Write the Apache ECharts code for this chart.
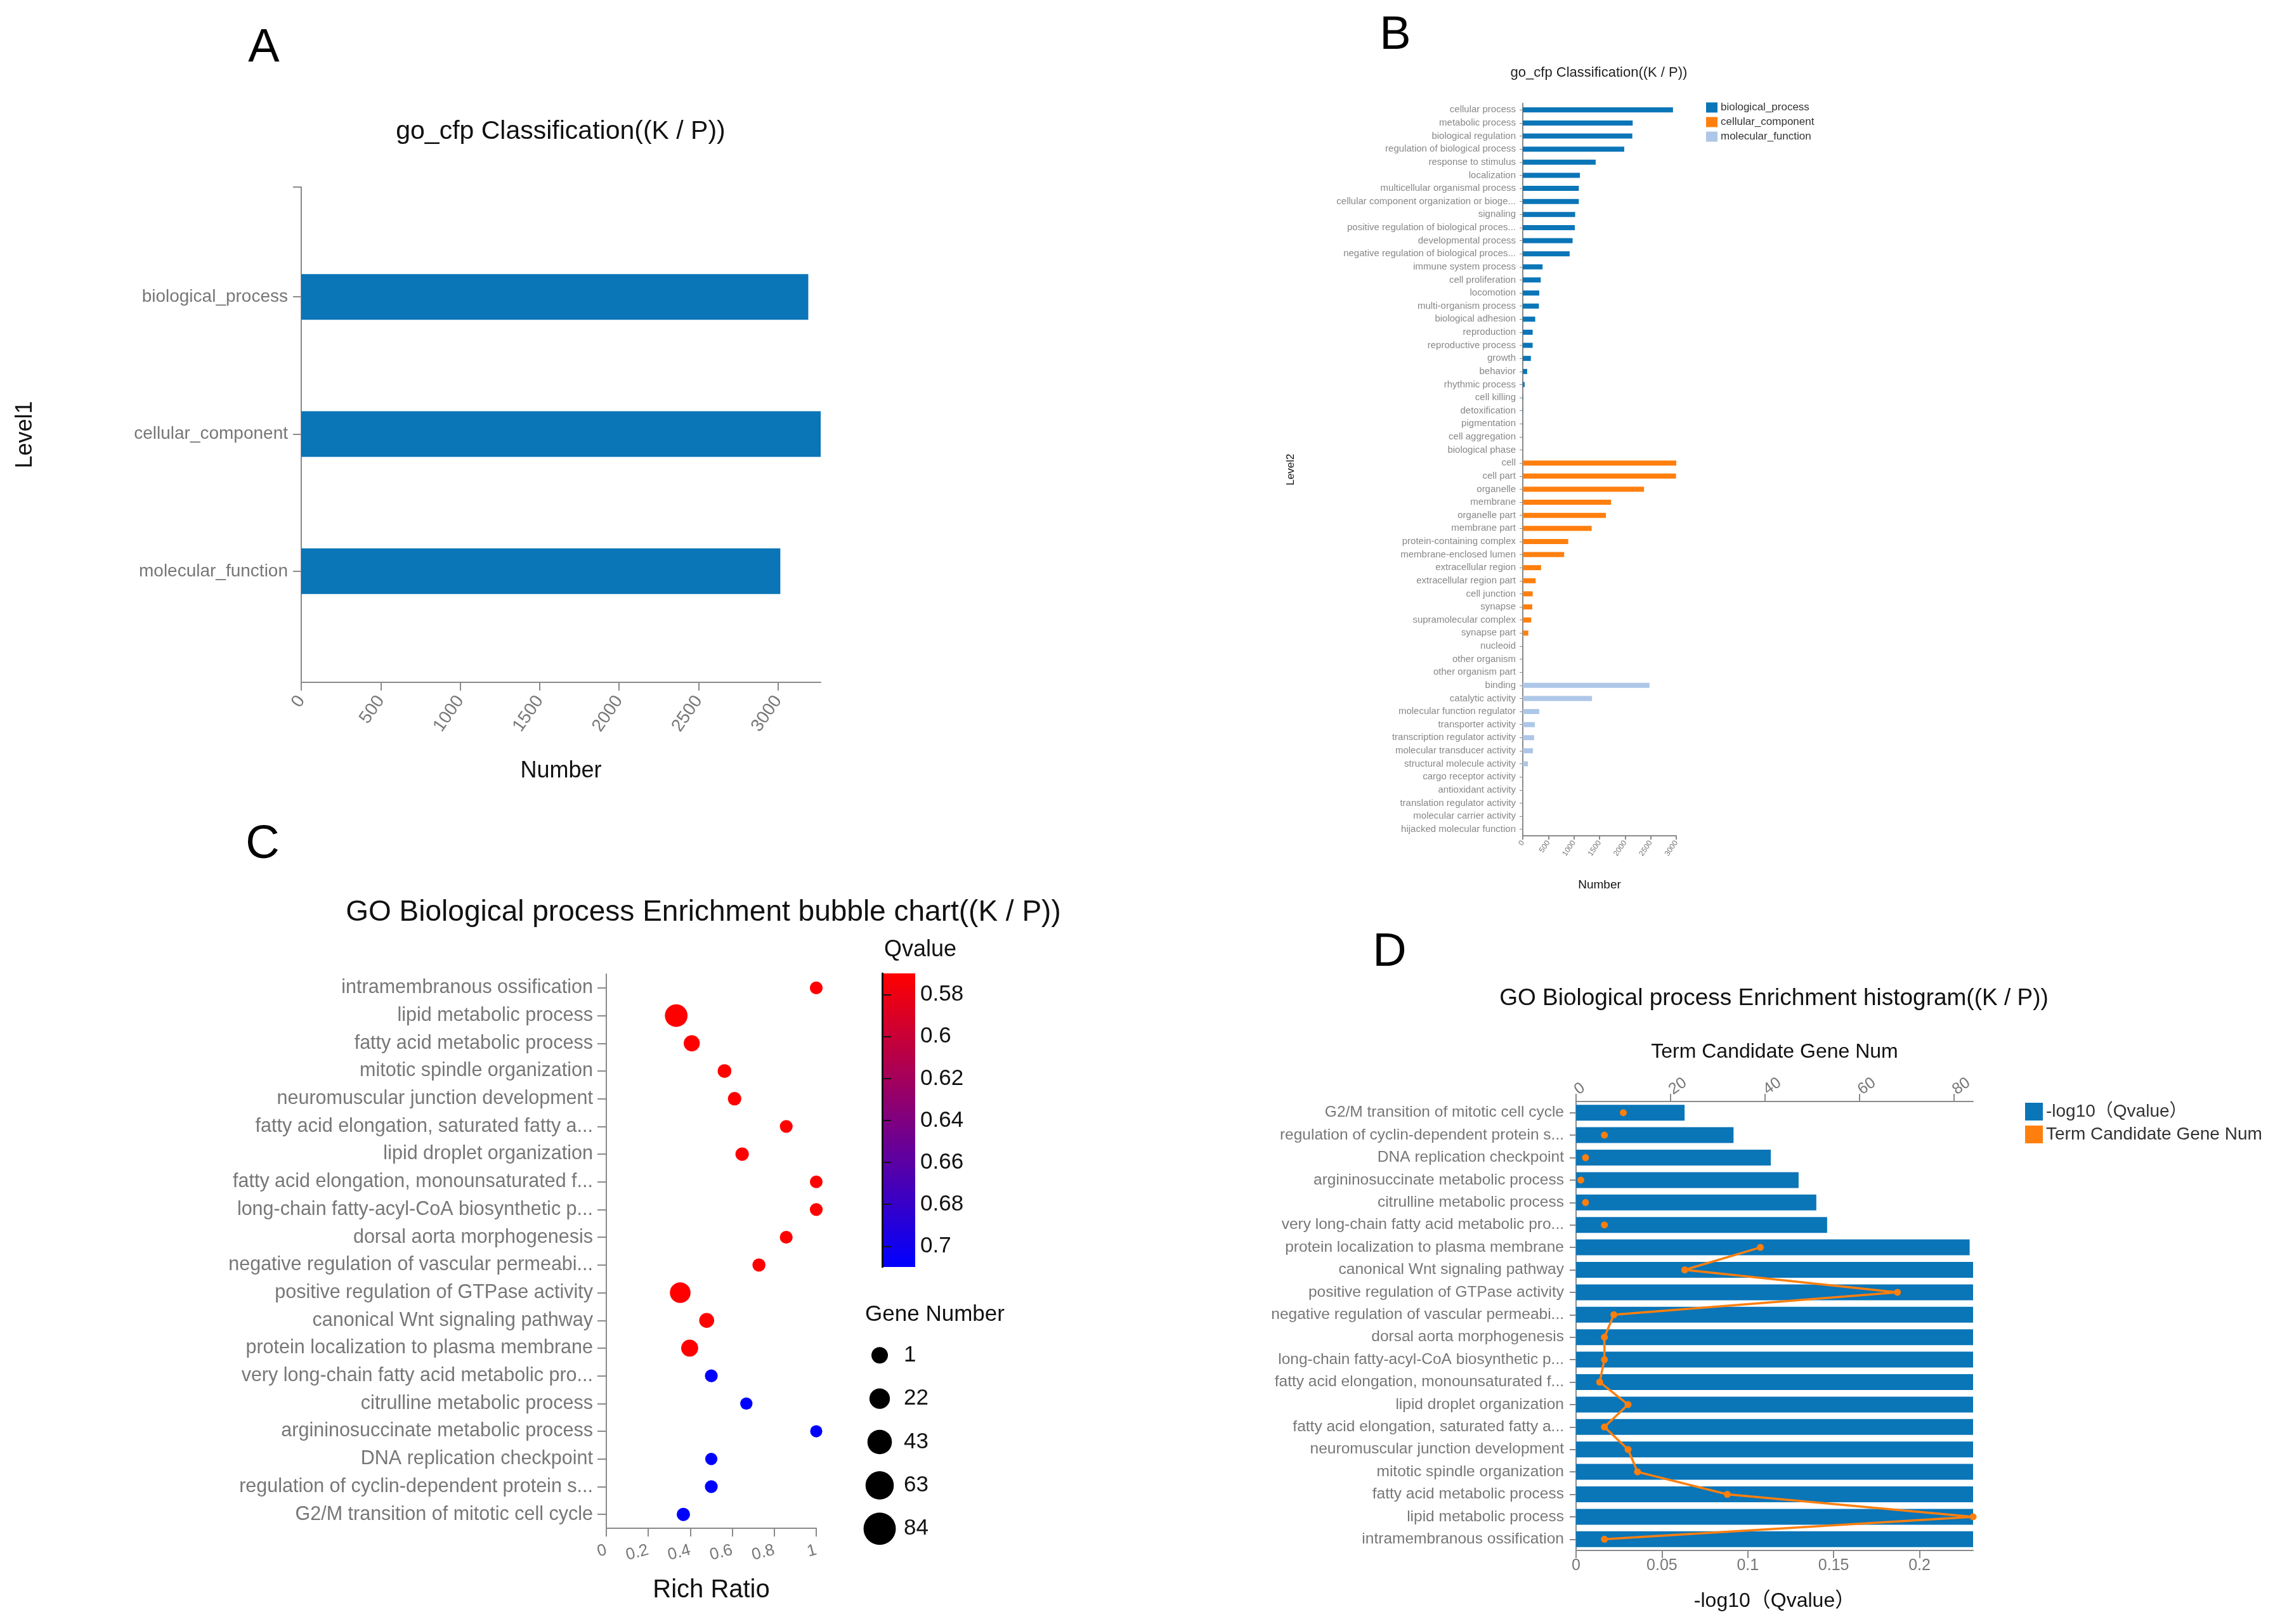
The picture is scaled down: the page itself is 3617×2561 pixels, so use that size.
<!DOCTYPE html>
<html>
<head>
<meta charset="utf-8">
<script src="https://cdn.jsdelivr.net/npm/echarts@6/dist/echarts.min.js"></script>
<style>
  html, body { margin: 0; padding: 0; background: #fff; }
  #main { width: 3617px; height: 2561px; }
</style>
</head>
<body>
<div id="main"></div>
<script>
// panel A: level 1 counts
var levelCats = ['biological_process', 'cellular_component', 'molecular_function'];
var levelCounts = [3190, 3268, 3014];

// panel B: level 2 counts, one list per ontology
var bpTerms = ['cellular process', 'metabolic process', 'biological regulation', 'regulation of biological process',
  'response to stimulus', 'localization', 'multicellular organismal process', 'cellular component organization or bioge...',
  'signaling', 'positive regulation of biological proces...', 'developmental process', 'negative regulation of biological proces...',
  'immune system process', 'cell proliferation', 'locomotion', 'multi-organism process', 'biological adhesion',
  'reproduction', 'reproductive process', 'growth', 'behavior', 'rhythmic process', 'cell killing', 'detoxification',
  'pigmentation', 'cell aggregation', 'biological phase'];
var bpCounts = [2936, 2148, 2141, 1983, 1425, 1117, 1095, 1095, 1024, 1017, 974, 916, 387, 351, 322, 315, 243,
  193, 193, 158, 86, 36, 8, 5, 3, 2, 1];
var ccTerms = ['cell', 'cell part', 'organelle', 'membrane', 'organelle part', 'membrane part', 'protein-containing complex',
  'membrane-enclosed lumen', 'extracellular region', 'extracellular region part', 'cell junction', 'synapse',
  'supramolecular complex', 'synapse part', 'nucleoid', 'other organism', 'other organism part'];
var ccCounts = [3000, 2995, 2370, 1726, 1625, 1346, 888, 809, 358, 251, 193, 186, 165, 107, 2, 2, 1];
var mfTerms = ['binding', 'catalytic activity', 'molecular function regulator', 'transporter activity',
  'transcription regulator activity', 'molecular transducer activity', 'structural molecule activity',
  'cargo receptor activity', 'antioxidant activity', 'translation regulator activity', 'molecular carrier activity',
  'hijacked molecular function'];
var mfCounts = [2477, 1353, 322, 236, 222, 200, 100, 3, 3, 2, 1, 1];

// panels C and D: enriched terms (top to bottom as in the bubble chart)
var terms = ['intramembranous ossification', 'lipid metabolic process', 'fatty acid metabolic process',
  'mitotic spindle organization', 'neuromuscular junction development', 'fatty acid elongation, saturated fatty a...',
  'lipid droplet organization', 'fatty acid elongation, monounsaturated f...', 'long-chain fatty-acyl-CoA biosynthetic p...',
  'dorsal aorta morphogenesis', 'negative regulation of vascular permeabi...', 'positive regulation of GTPase activity',
  'canonical Wnt signaling pathway', 'protein localization to plasma membrane', 'very long-chain fatty acid metabolic pro...',
  'citrulline metabolic process', 'argininosuccinate metabolic process', 'DNA replication checkpoint',
  'regulation of cyclin-dependent protein s...', 'G2/M transition of mitotic cell cycle'];
var richRatio = [1.0, 0.333, 0.407, 0.563, 0.611, 0.857, 0.647, 1.0, 1.0, 0.857, 0.727, 0.352, 0.478, 0.397,
  0.5, 0.667, 1.0, 0.5, 0.5, 0.367];
var geneNum = [6, 84, 32, 13, 11, 6, 11, 5, 6, 6, 8, 68, 23, 39, 6, 2, 1, 2, 6, 10];
var qValue = [0.5698, 0.5698, 0.5698, 0.5698, 0.5698, 0.5698, 0.5698, 0.5698, 0.5698, 0.5698, 0.5698, 0.5698,
  0.5698, 0.5698, 0.7099, 0.7099, 0.7099, 0.7099, 0.7099, 0.7099];
var negLogQ = [0.2312, 0.2312, 0.2312, 0.2312, 0.2312, 0.2312, 0.2312, 0.2312, 0.2312, 0.2312, 0.2312, 0.2312,
  0.2312, 0.2292, 0.1462, 0.1399, 0.1296, 0.1134, 0.0917, 0.0632];
var qTicks = [0.58, 0.6, 0.62, 0.64, 0.66, 0.68, 0.7];
var sizeLegend = [1, 22, 43, 63, 84];

var FONT = "'Liberation Sans', Arial, 'Noto Sans CJK SC', sans-serif";
var BLUE = '#0a75b7';
var ORANGE = '#ff7f0e';
var LIGHT = '#aec7e8';
var AXIS = '#8a8a8a';
var LABEL = '#777';

var qMin = Math.min.apply(null, qValue);
var qMax = Math.max.apply(null, qValue);
var levelMax = Math.max.apply(null, levelCounts);

var bTerms = bpTerms.concat(ccTerms, mfTerms);
function pad(arr, before, total) {
  var out = [];
  for (var i = 0; i < total; i++) {
    var j = i - before;
    out.push(j >= 0 && j < arr.length ? arr[j] : '-');
  }
  return out;
}

function bubbleSize(n) { return 19 + 0.2 * n; }
function legendSize(n) { return 26 + 0.3 * (n - 1); }
function plain(v) { return String(v); }

function txt(text, x, y, size, color) {
  return {
    text: text, left: x, top: y, padding: 0,
    textAlign: 'center', textVerticalAlign: 'middle',
    textStyle: { fontFamily: FONT, fontSize: size, fontWeight: 'normal', color: color || '#111' }
  };
}

var line = { show: true, lineStyle: { color: AXIS, width: 2 } };
var tick = function (len) { return { show: true, length: len, lineStyle: { color: AXIS, width: 2 } }; };

var option = {
  backgroundColor: '#fff',
  animation: false,
  textStyle: { fontFamily: FONT },
  title: [
    txt('A', 416, 77, 74, '#000'),
    txt('B', 2200, 57, 74, '#000'),
    txt('C', 414, 1333, 74, '#000'),
    txt('D', 2191, 1503, 74, '#000'),
    txt('go_cfp Classification((K / P))', 884, 208, 41),
    txt('go_cfp Classification((K / P))', 2521, 115, 22, '#222'),
    txt('GO Biological process Enrichment bubble chart((K / P))', 1109, 1439, 46),
    txt('GO Biological process Enrichment histogram((K / P))', 2797, 1575, 37),
    txt('Qvalue', 1451, 1498, 36),
    txt('Gene Number', 1474, 2073, 35)
  ],
  legend: [{
    orient: 'vertical', left: 2690, top: 161, padding: 0,
    itemWidth: 18, itemHeight: 16, itemGap: 6,
    textStyle: { fontSize: 17, color: '#333' },
    data: [{ name: 'biological_process', icon: 'rect' }, { name: 'cellular_component', icon: 'rect' },
      { name: 'molecular_function', icon: 'rect' }]
  }, {
    orient: 'vertical', left: 3193, top: 1739, padding: 0,
    itemWidth: 28, itemHeight: 28, itemGap: 8,
    textStyle: { fontSize: 28, color: '#333' },
    data: [{ name: '-log10（Qvalue）', icon: 'rect' }, { name: 'Term Candidate Gene Num', icon: 'rect' }]
  }],
  visualMap: {
    show: false, type: 'continuous', seriesIndex: 4, dimension: 2,
    min: qMin, max: qMax, inRange: { color: ['#ff0000', '#0000ff'] }
  },
  grid: [
    { left: 475, width: 819, top: 360, height: 649 },
    { left: 475, width: 819, top: 295, height: 781 },
    { left: 2401, width: 242, top: 163, height: 1155 },
    { left: 956, width: 331, top: 1536, height: 874 },
    { left: 1391, width: 52, top: 1535, height: 463, show: true, borderWidth: 0,
      backgroundColor: { type: 'linear', x: 0, y: 0, x2: 0, y2: 1,
        colorStops: [{ offset: 0, color: '#ff0000' }, { offset: 1, color: '#0000ff' }] } },
    { left: 1364, width: 46, top: 2103, height: 342 },
    { left: 2485, width: 626, top: 1737, height: 708 }
  ],
  xAxis: [
    { gridIndex: 0, type: 'value', min: 0, max: levelMax, show: false },
    { gridIndex: 1, type: 'value', min: 0, max: levelMax, interval: 500,
      axisLine: line, axisTick: tick(13), splitLine: { show: false },
      axisLabel: { rotate: 55, fontSize: 28, color: LABEL, margin: 24, showMaxLabel: false, formatter: plain },
      name: 'Number', nameLocation: 'middle', nameGap: 122,
      nameTextStyle: { fontSize: 36, color: '#111' } },
    { gridIndex: 2, type: 'value', min: 0, max: 3000, interval: 500,
      axisLine: line, axisTick: tick(6), splitLine: { show: false },
      axisLabel: { rotate: 55, fontSize: 12, color: LABEL, margin: 9, formatter: plain },
      name: 'Number', nameLocation: 'middle', nameGap: 68,
      nameTextStyle: { fontSize: 19, color: '#111' } },
    { gridIndex: 3, type: 'value', min: 0, max: 1, interval: 0.2,
      axisLine: line, axisTick: tick(13), splitLine: { show: false },
      axisLabel: { rotate: 15, fontSize: 26, color: LABEL, margin: 34 },
      name: 'Rich Ratio', nameLocation: 'middle', nameGap: 78,
      nameTextStyle: { fontSize: 40, color: '#111' } },
    { gridIndex: 4, type: 'value', min: 0, max: 1, show: false },
    { gridIndex: 5, type: 'value', min: -1, max: 1, show: false },
    { gridIndex: 6, type: 'value', min: 0, max: Math.max.apply(null, negLogQ), interval: 0.05,
      axisLine: line, axisTick: tick(12), splitLine: { show: false },
      axisLabel: { fontSize: 25, color: LABEL, margin: 12, showMaxLabel: false },
      name: '-log10（Qvalue）', nameLocation: 'middle', nameGap: 64,
      nameTextStyle: { fontSize: 32, color: '#111' } },
    { gridIndex: 6, type: 'value', position: 'top', min: 0, max: Math.max.apply(null, geneNum), interval: 20,
      axisLine: line, axisTick: tick(12), splitLine: { show: false },
      axisLabel: { rotate: -35, fontSize: 25, color: LABEL, margin: 16, showMaxLabel: false },
      name: 'Term Candidate Gene Num', nameLocation: 'middle', nameGap: 62,
      nameTextStyle: { fontSize: 32, color: '#111' } }
  ],
  yAxis: [
    { gridIndex: 0, type: 'category', inverse: true, data: levelCats,
      axisLine: { show: false }, axisTick: { show: true, alignWithLabel: true, length: 13, lineStyle: { color: AXIS, width: 2 } },
      axisLabel: { fontSize: 28, color: LABEL, margin: 21 } },
    { gridIndex: 1, type: 'value', min: 0, max: 1,
      axisLine: line, axisTick: { show: true, length: 13, customValues: [1], lineStyle: { color: AXIS, width: 2 } },
      axisLabel: { show: false }, splitLine: { show: false },
      name: 'Level1', nameLocation: 'middle', nameGap: 417,
      nameTextStyle: { fontSize: 36, color: '#111' } },
    { gridIndex: 2, type: 'category', inverse: true, data: bTerms,
      axisLine: line, axisTick: { show: true, alignWithLabel: true, length: 5, lineStyle: { color: AXIS } },
      axisLabel: { fontSize: 15, color: '#888', margin: 11, interval: 0 },
      name: 'Level2', nameLocation: 'middle', nameGap: 357,
      nameTextStyle: { fontSize: 17, color: '#111' } },
    { gridIndex: 3, type: 'category', inverse: true, data: terms,
      axisLine: line, axisTick: { show: true, alignWithLabel: true, length: 14, lineStyle: { color: AXIS, width: 2 } },
      axisLabel: { fontSize: 30.5, color: LABEL, margin: 21, interval: 0 } },
    { gridIndex: 4, type: 'value', position: 'right', inverse: true, min: qMin, max: qMax,
      axisLine: { show: true, lineStyle: { color: '#111', width: 3 } },
      axisTick: { show: true, length: 14, customValues: qTicks, lineStyle: { color: '#111', width: 2 } },
      axisLabel: { fontSize: 35, color: '#111', margin: 8, customValues: qTicks,
        formatter: function (v) { return String(+(+v).toFixed(2)); } },
      splitLine: { show: false } },
    { gridIndex: 5, type: 'category', position: 'right', inverse: true, data: sizeLegend.map(String),
      axisLine: { show: false }, axisTick: { show: false },
      axisLabel: { fontSize: 35, color: '#111', margin: 15 } },
    { gridIndex: 6, type: 'category', data: terms,
      axisLine: line, axisTick: { show: true, alignWithLabel: true, length: 10, lineStyle: { color: AXIS, width: 2 } },
      axisLabel: { fontSize: 24.5, color: LABEL, margin: 19, interval: 0 } }
  ],
  series: [
    { type: 'bar', xAxisIndex: 0, yAxisIndex: 0, barWidth: 72, itemStyle: { color: BLUE },
      data: levelCounts },
    { type: 'bar', name: 'biological_process', xAxisIndex: 2, yAxisIndex: 2, barWidth: 8, barGap: '-100%',
      itemStyle: { color: BLUE }, data: pad(bpCounts, 0, bTerms.length) },
    { type: 'bar', name: 'cellular_component', xAxisIndex: 2, yAxisIndex: 2, barWidth: 8, barGap: '-100%',
      itemStyle: { color: ORANGE }, data: pad(ccCounts, bpTerms.length, bTerms.length) },
    { type: 'bar', name: 'molecular_function', xAxisIndex: 2, yAxisIndex: 2, barWidth: 8, barGap: '-100%',
      itemStyle: { color: LIGHT }, data: pad(mfCounts, bpTerms.length + ccTerms.length, bTerms.length) },
    { type: 'scatter', xAxisIndex: 3, yAxisIndex: 3, itemStyle: { opacity: 1 },
      symbolSize: function (v) { return bubbleSize(v[3]); },
      data: richRatio.map(function (r, i) { return [r, i, qValue[i], geneNum[i]]; }) },
    { type: 'scatter', xAxisIndex: 5, yAxisIndex: 5, itemStyle: { color: '#000', opacity: 1 },
      symbolSize: function (v) { return legendSize(v[2]); },
      data: sizeLegend.map(function (n, i) { return [0, i, n]; }) },
    { type: 'bar', name: '-log10（Qvalue）', xAxisIndex: 6, yAxisIndex: 6, barWidth: 25,
      itemStyle: { color: BLUE }, data: negLogQ },
    // the connecting line only runs through the red (low Q) terms
    { type: 'line', name: 'Term Candidate Gene Num', xAxisIndex: 7, yAxisIndex: 6,
      symbol: 'none', lineStyle: { color: ORANGE, width: 3.5 }, itemStyle: { color: ORANGE },
      data: geneNum.map(function (n, i) { return qValue[i] < 0.6 ? [n, i] : [null, i]; }) },
    { type: 'scatter', name: 'Term Candidate Gene Num', xAxisIndex: 7, yAxisIndex: 6, symbolSize: 11,
      itemStyle: { color: ORANGE, opacity: 1 }, data: geneNum.map(function (n, i) { return [n, i]; }) }
  ]
};

var chart = echarts.init(document.getElementById('main'));
chart.setOption(option);
</script>
</body>
</html>
